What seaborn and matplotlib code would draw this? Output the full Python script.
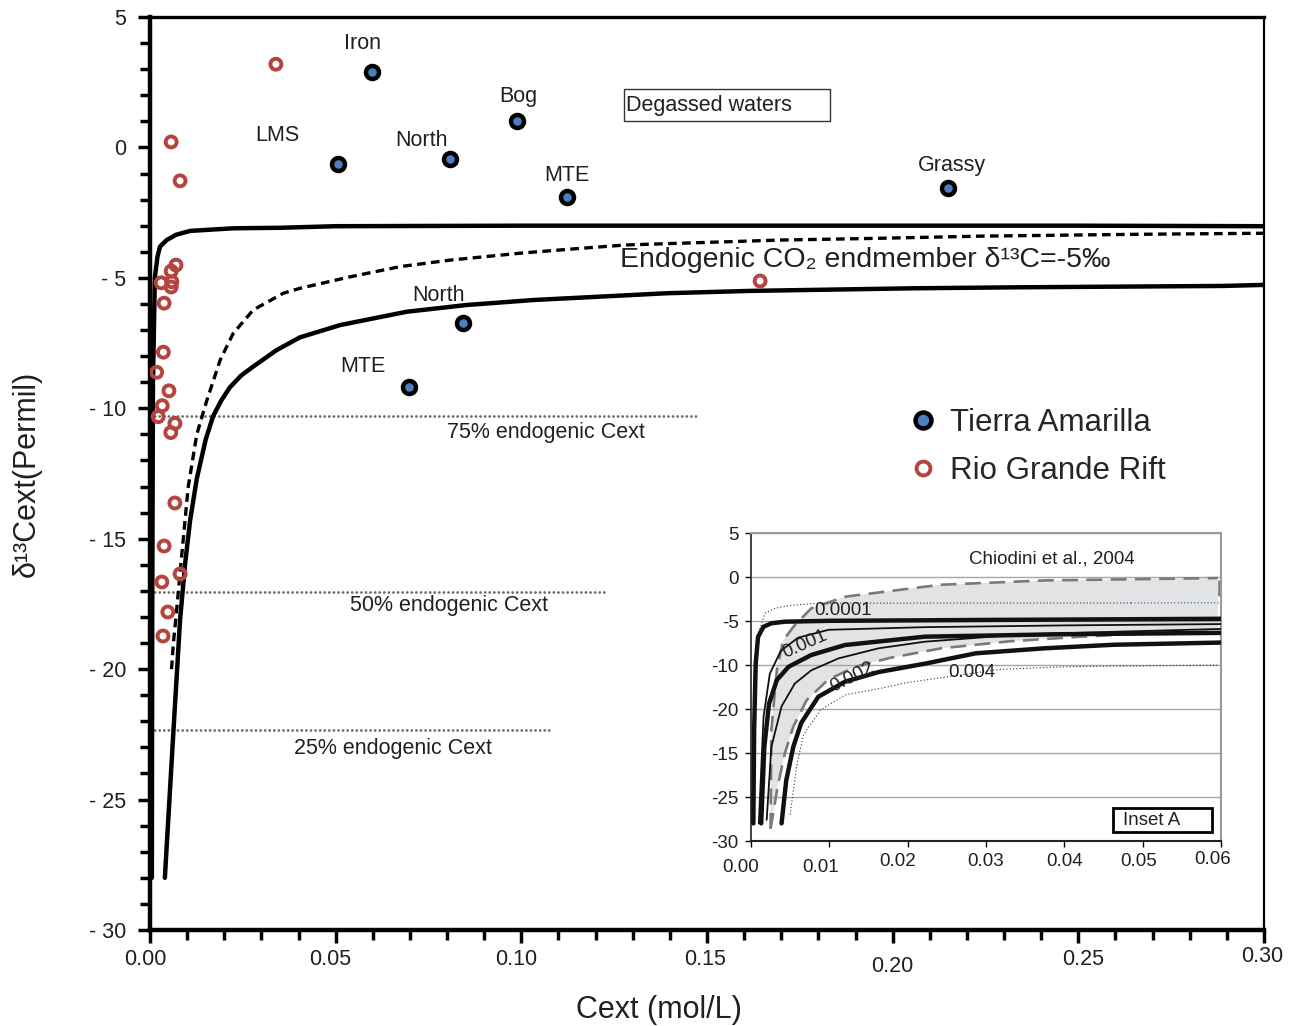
import numpy as np
import matplotlib
matplotlib.use('Agg')
import matplotlib.pyplot as plt
import matplotlib.transforms as mtransforms
from matplotlib.lines import Line2D
from matplotlib.patches import Rectangle
import seaborn as sns

# ---------------- data ----------------
# Tierra Amarilla samples
ta_names = ['Iron', 'LMS', 'North', 'Bog', 'MTE', 'Grassy', 'North', 'MTE']
ta_x = [0.0597, 0.0505, 0.0808, 0.0987, 0.1122, 0.2148, 0.0842, 0.0697]
ta_y = [2.90, -0.65, -0.46, 1.01, -1.89, -1.54, -6.72, -9.17]
# where each sample name is written
ta_label_x = [0.0573, 0.0343, 0.0732, 0.0991, 0.1122, 0.2159, 0.0776, 0.0573]
ta_label_y = [3.99, 0.47, 0.26, 1.94, -1.06, -0.68, -5.66, -8.38]

# Rio Grande Rift samples
rgr_x = [0.0339, 0.0057, 0.0081, 0.1643,
         0.0070, 0.0057, 0.0030, 0.0059, 0.0057, 0.0038,
         0.0036, 0.0018, 0.0051, 0.0033, 0.0022, 0.0067, 0.0056,
         0.0067, 0.0038, 0.0081, 0.0032, 0.0048, 0.0035]
rgr_y = [3.19, 0.21, -1.28, -5.12,
         -4.51, -4.74, -5.19, -5.15, -5.35, -5.97,
         -7.85, -8.62, -9.33, -9.90, -10.32, -10.58, -10.93,
         -13.63, -15.28, -16.35, -16.66, -17.81, -18.73]

# mixing curves (main panel)
upper_x = [0.0005, 0.0006, 0.0008, 0.0013, 0.0020, 0.0027, 0.0045, 0.0070, 0.0108,
           0.0224, 0.035, 0.05, 0.10, 0.15, 0.20, 0.25, 0.30]
upper_y = [-28.0, -18.0, -9.0, -5.0, -4.2, -3.8, -3.55, -3.35, -3.2,
           -3.1, -3.08, -3.02, -3.0, -3.0, -3.0, -3.0, -3.02]
lower_x = [0.0040, 0.0063, 0.0081, 0.0095, 0.0108, 0.0126, 0.0150, 0.0170, 0.0192,
           0.0215, 0.0245, 0.0278, 0.0341, 0.0404, 0.0512, 0.0691, 0.0853, 0.1032,
           0.1212, 0.1391, 0.1616, 0.2056, 0.2355, 0.2890, 0.3000]
lower_y = [-28.0, -22.4, -18.1, -15.9, -14.3, -12.7, -11.2, -10.3, -9.7,
           -9.2, -8.75, -8.4, -7.77, -7.28, -6.81, -6.30, -6.04, -5.85,
           -5.72, -5.59, -5.50, -5.40, -5.36, -5.31, -5.27]
dash_x = [0.0058, 0.0063, 0.0072, 0.0085, 0.0103, 0.0126, 0.0153, 0.0189, 0.0224,
          0.0278, 0.0359, 0.0404, 0.0539, 0.0673, 0.0808, 0.1000, 0.1158, 0.1280,
          0.1700, 0.1940, 0.2240, 0.2660, 0.3000]
dash_y = [-20.0, -19.0, -17.7, -15.7, -13.0, -11.0, -9.7, -8.15, -7.13,
          -6.23, -5.59, -5.40, -4.96, -4.57, -4.32, -4.05, -3.87, -3.74,
          -3.55, -3.49, -3.40, -3.33, -3.29]

# endogenic fraction levels: label, delta value, extent in Cext
endo_labels = ['75% endogenic Cext', '50% endogenic Cext', '25% endogenic Cext']
endo_y = [-10.30, -17.04, -22.34]
endo_xmax = [0.148, 0.1223, 0.1075]

main_xticks = [0.0, 0.05, 0.10, 0.15, 0.20, 0.25, 0.30]
main_xticklabels = ['0.00', '0.05', '0.10', '0.15', '0.20', '0.25', '0.30']
main_yticks = [5, 0, -5, -10, -15, -20, -25, -30]
main_yticklabels = ['5', '0', '- 5', '- 10', '- 15', '- 20', '- 25', '- 30']

# inset (Chiodini et al., 2004)
inA_x = [0.0003, 0.0004, 0.0006, 0.0009, 0.0016, 0.0026, 0.0043, 0.010, 0.030, 0.060]
inA_y = [-28.0, -17.4, -9.8, -6.8, -5.65, -5.26, -5.08, -4.98, -4.88, -4.75]
inB_x = [0.0010, 0.0016, 0.0024, 0.0038, 0.0060, 0.0099, 0.0222, 0.040, 0.060]
inB_y = [-28.0, -15.9, -11.0, -8.4, -6.9, -6.0, -5.7, -5.5, -5.35]
inC_x = [0.0020, 0.0026, 0.0039, 0.0056, 0.0077, 0.0112, 0.0163, 0.0222, 0.035, 0.060]
inC_y = [-27.6, -19.3, -14.7, -12.1, -10.6, -9.24, -8.1, -7.35, -6.5, -5.9]
inD_x = [0.0013, 0.0017, 0.0023, 0.0033, 0.0048, 0.0077, 0.0120, 0.0222, 0.040, 0.060]
inD_y = [-28.0, -19.3, -14.4, -11.7, -10.2, -8.86, -7.73, -6.78, -6.5, -6.35]
inE_x = [0.0039, 0.0045, 0.0054, 0.0064, 0.0086, 0.0120, 0.0163, 0.0222, 0.0287,
         0.0375, 0.0463, 0.060]
inE_y = [-28.0, -23.1, -19.3, -16.6, -13.6, -11.9, -10.8, -9.85, -8.67,
         -8.1, -7.7, -7.45]
env_up_x = [0.0025, 0.0026, 0.0033, 0.0041, 0.0056, 0.0077, 0.0120, 0.0222, 0.0243,
            0.0375, 0.0596]
env_up_y = [-28.6, -17.4, -10.6, -7.2, -5.45, -3.56, -2.24, -1.1, -0.88, -0.39, -0.12]
env_lo_x = [0.0025, 0.0034, 0.0043, 0.0054, 0.0071, 0.0098, 0.0133, 0.0177, 0.0243,
            0.0331, 0.0419, 0.0507, 0.0596]
env_lo_y = [-28.6, -23.8, -20.1, -17.0, -14.0, -11.7, -10.2, -9.2, -8.1,
            -7.3, -6.8, -6.4, -6.2]
env_end_x = [0.0597, 0.0597]
env_end_y = [-0.3, -2.5]
dot_up_x = [0.0007, 0.0018, 0.0031, 0.0048, 0.0082, 0.0155, 0.0485]
dot_up_y = [-7.0, -4.1, -3.55, -3.25, -3.0, -2.97, -2.95]
dot_up_end_x = [0.0485, 0.0600]
dot_up_end_y = [-2.95, -2.93]
dot_lo_x = [0.0050, 0.0058, 0.0067, 0.0089, 0.0120, 0.0163, 0.0199, 0.0254, 0.0318,
            0.0400, 0.0595]
dot_lo_y = [-27.0, -21.6, -17.9, -15.1, -13.4, -12.7, -12.0, -11.3, -10.5, -10.2, -10.0]

in_xticks = [0.0, 0.01, 0.02, 0.03, 0.04, 0.05, 0.06]
in_xticklabels = ['0.00', '0.01', '0.02', '0.03', '0.04', '0.05', '0.06']
in_yticks = [5, 0, -5, -10, -15, -20, -25, -30]
in_yticklabels = ['5', '0', '-5', '-10', '-20', '-15', '-25', '-30']

# ---------------- styling ----------------
sns.set_theme(style='white')
plt.rcParams['font.family'] = ['Liberation Sans', 'DejaVu Sans']
TXT = '#231f20'
BLUE = '#4a7ebf'
RED = '#b5433e'

fig = plt.figure(figsize=(12.92, 10.26), dpi=100)
ax = fig.add_axes([150 / 1292, 1 - 930 / 1026, 1114 / 1292, 913 / 1026])

# curves
sns.lineplot(x=upper_x, y=upper_y, ax=ax, color='black', lw=3.2,
             sort=False, estimator=None, zorder=3)
sns.lineplot(x=lower_x, y=lower_y, ax=ax, color='black', lw=3.2,
             sort=False, estimator=None, zorder=3)
sns.lineplot(x=dash_x, y=dash_y, ax=ax, color='black', lw=2.4,
             linestyle=(0, (2.6, 1.6)), sort=False, estimator=None, zorder=3)

for lab, yv, xm in zip(endo_labels, endo_y, endo_xmax):
    sns.lineplot(x=[0.0, xm], y=[yv, yv], ax=ax, color='#6e6e6e', lw=2.0,
                 linestyle=(0, (0.05, 1.6)), dash_capstyle='round',
                 sort=False, estimator=None, zorder=2)
endo_text_x = [0.1066, 0.0805, 0.0654]
endo_text_y = [-10.91, -17.55, -23.06]
for lab, tx, ty in zip(endo_labels, endo_text_x, endo_text_y):
    ax.text(tx, ty, lab, fontsize=15.5, color=TXT, ha='center', va='center')

# points
sns.scatterplot(x=rgr_x, y=rgr_y, ax=ax, s=62, facecolors='none',
                edgecolor=RED, linewidth=2.8, zorder=5)
sns.scatterplot(x=ta_x, y=ta_y, ax=ax, s=88, color=BLUE,
                edgecolor='black', linewidth=3.2, zorder=6)
for name, lx, ly in zip(ta_names, ta_label_x, ta_label_y):
    ax.text(lx, ly, name, fontsize=15.5, color=TXT, ha='center', va='center')

# annotations
ax.add_patch(Rectangle((0.1276, 1.01), 0.0555, 1.23, fill=False,
                       ec='#333333', lw=1.0, zorder=4))
ax.text(0.1283, 1.62, 'Degassed waters', fontsize=15.5, color=TXT,
        ha='left', va='center')
ax.text(0.1266, -4.32, 'Endogenic CO\u2082 endmember \u03b4\u00b9\u00b3C=-5\u2030',
        fontsize=20.5, color=TXT, ha='left', va='center')

handles = [Line2D([], [], ls='', marker='o', ms=11.5, mfc=BLUE, mec='black', mew=3.2),
           Line2D([], [], ls='', marker='o', ms=10, mfc='none', mec=RED, mew=2.8)]
ax.legend(handles, ['Tierra Amarilla', 'Rio Grande Rift'], loc='upper left',
          bbox_to_anchor=(0.680, 0.572), frameon=False, fontsize=22.5,
          handlelength=1.0, handletextpad=0.35, labelspacing=0.58,
          borderpad=0, borderaxespad=0)

# axes
ax.set_xlim(0, 0.30)
ax.set_ylim(-30, 5)
ax.set_xticks(main_xticks)
ax.set_xticklabels(main_xticklabels)
ax.set_xticks(np.arange(0, 0.3001, 0.01), minor=True)
ax.set_yticks(main_yticks)
ax.set_yticklabels(main_yticklabels)
ax.set_yticks(np.arange(-30, 5.01, 1), minor=True)
ax.tick_params(axis='both', which='both', direction='out', color='black',
               width=2.5, labelsize=15.5, labelcolor=TXT)
ax.tick_params(axis='both', which='major', length=9)
ax.tick_params(axis='both', which='minor', length=7)
ax.tick_params(axis='x', which='major', pad=5)
ax.tick_params(axis='y', which='major', pad=8)
ax.tick_params(bottom=True, left=True, which='both')
for side, lw in zip(['left', 'bottom', 'top', 'right'], [3.2, 3.2, 2.4, 1.6]):
    ax.spines[side].set_color('black')
    ax.spines[side].set_linewidth(lw)
ax.set_xlabel('Cext (mol/L)', fontsize=22, color=TXT)
ax.xaxis.set_label_coords(0.457, -0.071)
ax.set_ylabel('\u03b4\u00b9\u00b3Cext(Permil)', fontsize=22, color=TXT)
ax.yaxis.set_label_coords(-0.097, 0.5)

# slightly irregular label placement of the original
main_dx = [-5, -5, -5, -2, 0, 5, -2]
main_dy = [0, 0, 0, 0, -7, 0, 3]
for lab, dx, dy in zip(ax.get_xticklabels(), main_dx, main_dy):
    lab.set_transform(lab.get_transform() +
                      mtransforms.ScaledTranslation(dx / 100, dy / 100, fig.dpi_scale_trans))

# ---------------- inset ----------------
axi = fig.add_axes([751 / 1292, 1 - 841 / 1026, 470 / 1292, 308 / 1026])
axi.set_facecolor('white')
axi.fill(np.r_[env_up_x, env_lo_x[::-1]], np.r_[env_up_y, env_lo_y[::-1]],
         color='#e2e3e5', lw=0, zorder=0.4)
grey_dash = dict(color='#7a7a7a', lw=1.9, linestyle=(0, (6, 3.2)),
                 sort=False, estimator=None, zorder=2)
sns.lineplot(x=env_up_x, y=env_up_y, ax=axi, **grey_dash)
sns.lineplot(x=env_lo_x, y=env_lo_y, ax=axi, **grey_dash)
sns.lineplot(x=env_end_x, y=env_end_y, ax=axi, **grey_dash)
thin_dot = dict(lw=0.8, linestyle=(0, (1, 2)), sort=False, estimator=None, zorder=2)
sns.lineplot(x=dot_up_x, y=dot_up_y, ax=axi, color='#333333', **thin_dot)
sns.lineplot(x=dot_up_end_x, y=dot_up_end_y, ax=axi, color='#3a45a0', **thin_dot)
sns.lineplot(x=dot_lo_x, y=dot_lo_y, ax=axi, color='#333333', **thin_dot)
for cx, cy, w in [(inA_x, inA_y, 3.2), (inB_x, inB_y, 1.3), (inC_x, inC_y, 1.3),
                  (inD_x, inD_y, 3.2), (inE_x, inE_y, 3.2)]:
    sns.lineplot(x=cx, y=cy, ax=axi, color='#111111', lw=w,
                 sort=False, estimator=None, zorder=3)

axi.text(0.0384, 2.05, 'Chiodini et al., 2004', fontsize=13.5, color=TXT,
         ha='center', va='center')
axi.text(0.01175, -3.86, '0.0001', fontsize=13.5, color=TXT, ha='center', va='center')
axi.text(0.0069, -7.7, '0.001', fontsize=13.5, color=TXT, ha='center', va='center',
         rotation=24)
axi.text(0.0129, -11.4, '0.002', fontsize=13.5, color=TXT, ha='center', va='center',
         rotation=27)
axi.text(0.0282, -10.9, '0.004', fontsize=13.5, color=TXT, ha='center', va='center')
axi.add_patch(Rectangle((0.770, 0.029), 0.211, 0.078, transform=axi.transAxes,
                        fill=False, ec='black', lw=2.0, zorder=5))
axi.text(0.791, 0.040, 'Inset A', transform=axi.transAxes, fontsize=13.5,
         color=TXT, ha='left', va='bottom', zorder=5)

axi.set_xlim(0, 0.06)
axi.set_ylim(-30, 5)
axi.set_xticks(in_xticks)
axi.set_xticklabels(in_xticklabels)
axi.set_yticks(in_yticks)
axi.set_yticklabels(in_yticklabels)
axi.set_axisbelow(True)
axi.yaxis.grid(True, color='#a6a6a6', lw=1.0)
axi.xaxis.grid(False)
axi.tick_params(axis='both', direction='out', length=4, width=1.0, color='black',
                labelsize=13.5, labelcolor=TXT, pad=5, bottom=True, left=True)
for side, col, lw in [('left', '#222222', 1.2), ('bottom', '#222222', 1.5),
                      ('top', '#9a9a9a', 1.5), ('right', '#9a9a9a', 1.5)]:
    axi.spines[side].set_color(col)
    axi.spines[side].set_linewidth(lw)
in_dx = [-10, -9, -10, 0, 0, -4, -8]
in_dy = [-6, -6, 0, 0, 0, 0, 2]
for lab, dx, dy in zip(axi.get_xticklabels(), in_dx, in_dy):
    lab.set_transform(lab.get_transform() +
                      mtransforms.ScaledTranslation(dx / 100, dy / 100, fig.dpi_scale_trans))

fig.savefig('out.png', dpi=100)
